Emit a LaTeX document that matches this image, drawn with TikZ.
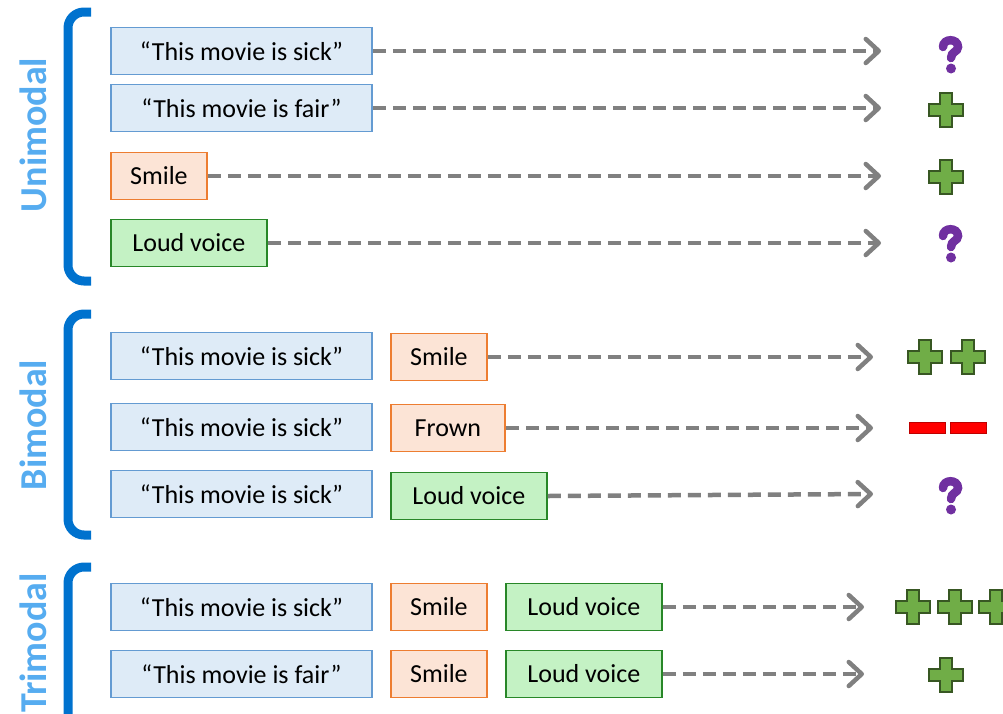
\documentclass[tikz,border=0pt]{standalone}
\usepackage{fontspec}
\setmainfont{Carlito}
\usetikzlibrary{arrows.meta}

\definecolor{tbfill}{RGB}{222,235,247}
\definecolor{tbline}{RGB}{100,155,210}
\definecolor{fcfill}{RGB}{252,228,214}
\definecolor{fcline}{RGB}{237,125,49}
\definecolor{vcfill}{RGB}{196,242,196}
\definecolor{vcline}{RGB}{40,135,40}
\definecolor{arrgray}{RGB}{128,128,128}
\definecolor{brkblue}{RGB}{0,114,206}
\definecolor{lblblue}{RGB}{86,172,240}
\definecolor{qpurple}{RGB}{112,48,160}
\definecolor{plfill}{RGB}{112,173,71}
\definecolor{plline}{RGB}{56,87,35}
\definecolor{mnfill}{RGB}{255,0,0}
\definecolor{mnline}{RGB}{190,0,0}

\tikzset{
  box/.style={draw, line width=1.8pt, minimum height=47pt, inner sep=0pt,
    anchor=west, text=black, font=\fontsize{26}{30}\selectfont},
  textbox/.style={box, fill=tbfill, draw=tbline, minimum width=261pt},
  facebox/.style={box, fill=fcfill, draw=fcline},
  voicebox/.style={box, fill=vcfill, draw=vcline, minimum width=156pt},
  arr/.style={draw=arrgray, line width=4.5pt, dash pattern=on 13pt off 7pt,
    -{Straight Barb[length=13pt,width=24pt,round]}},
  brk/.style={draw=brkblue, line width=9pt, rounded corners=16pt},
  grp/.style={rotate=90, text=lblblue, font=\bfseries\fontsize{38}{40}\selectfont},
  % heavy question mark: a thick hook and a round dot
  qmk/.pic={
    \draw[qpurple, line width=8.5pt, line cap=round]
      (-7,-8) .. controls (-7,-17) and (8,-17) .. (8,-8)
      .. controls (8,-3) and (1,-3.5) .. (1,3);
    \fill[qpurple] (1,13.5) circle (5);
  },
  plusmk/.pic={
    \filldraw[fill=plfill, draw=plline, line width=1.8pt]
      (-6,-17) -- (6,-17) -- (6,-6) -- (17,-6) -- (17,6) -- (6,6) -- (6,17)
      -- (-6,17) -- (-6,6) -- (-17,6) -- (-17,-6) -- (-6,-6) -- cycle;
  },
  minusmk/.pic={
    \filldraw[fill=mnfill, draw=mnline, line width=1pt] (-18,-5.5) rectangle (18,5.5);
  }
}

\begin{document}
\begin{tikzpicture}[x=1pt,y=-1pt]
\useasboundingbox (0,0) rectangle (1003,713);
\clip (0,0) rectangle (1003,713);

% group labels and brackets
\node[grp] (lu) at (33,135) {Unimodal};
\node[grp] (lb) at (33,425) {Bimodal};
\node[grp] (lt) at (33,643) {Trimodal};
\draw[brk] (91,12) -- (68,12) -- (68,281) -- (91,281);
\draw[brk] (91,314) -- (68,314) -- (68,535) -- (91,535);
\draw[brk] (91,567) -- (68,567) -- (68,740);

% unimodal rows
\node[textbox] (u1) at (110,51) {“This movie is sick”};
\node[textbox] (u2) at (110,108) {“This movie is fair”};
\node[facebox, minimum width=96pt] (u3) at (110,176) {Smile};
\node[voicebox] (u4) at (110,243) {Loud voice};
\coordinate (eu1) at (881,51);
\coordinate (eu2) at (881,108);
\coordinate (eu3) at (881,176);
\coordinate (eu4) at (881,243);
\draw[arr] (u1.east) -- (eu1);
\draw[arr] (u2.east) -- (eu2);
\draw[arr] (u3.east) -- (eu3);
\draw[arr] (u4.east) -- (eu4);
\pic at (950,55) {qmk};
\pic at (946,110) {plusmk};
\pic at (946,177) {plusmk};
\pic at (950,244) {qmk};

% bimodal rows
\node[textbox] (b1) at (110,356) {“This movie is sick”};
\node[textbox] (b2) at (110,427) {“This movie is sick”};
\node[textbox] (b3) at (110,494) {“This movie is sick”};
\node[facebox, minimum width=96pt] (b1f) at (390,357) {Smile};
\node[facebox, minimum width=114pt] (b2f) at (390,428) {Frown};
\node[voicebox] (b3v) at (390,496) {Loud voice};
\coordinate (eb1) at (873,357);
\coordinate (eb2) at (873,428);
\coordinate (eb3) at (873,494);
\draw[arr] (b1f.east) -- (eb1);
\draw[arr] (b2f.east) -- (eb2);
\draw[arr] (b3v.east) -- (eb3);
\pic at (925,357) {plusmk};
\pic at (968,357) {plusmk};
\pic at (927,428) {minusmk};
\pic at (968,428) {minusmk};
\pic at (950,496) {qmk};

% trimodal rows
\node[textbox] (t1) at (110,607) {“This movie is sick”};
\node[textbox] (t2) at (110,674) {“This movie is fair”};
\node[facebox, minimum width=96pt] (t1f) at (390,607) {Smile};
\node[facebox, minimum width=96pt] (t2f) at (390,674) {Smile};
\node[voicebox] (t1v) at (505,607) {Loud voice};
\node[voicebox] (t2v) at (505,674) {Loud voice};
\coordinate (et1) at (864,607);
\coordinate (et2) at (864,674);
\draw[arr] (t1v.east) -- (et1);
\draw[arr] (t2v.east) -- (et2);
\pic at (913,607) {plusmk};
\pic at (955,607) {plusmk};
\pic at (996,607) {plusmk};
\pic at (946,675) {plusmk};
\end{tikzpicture}
\end{document}
